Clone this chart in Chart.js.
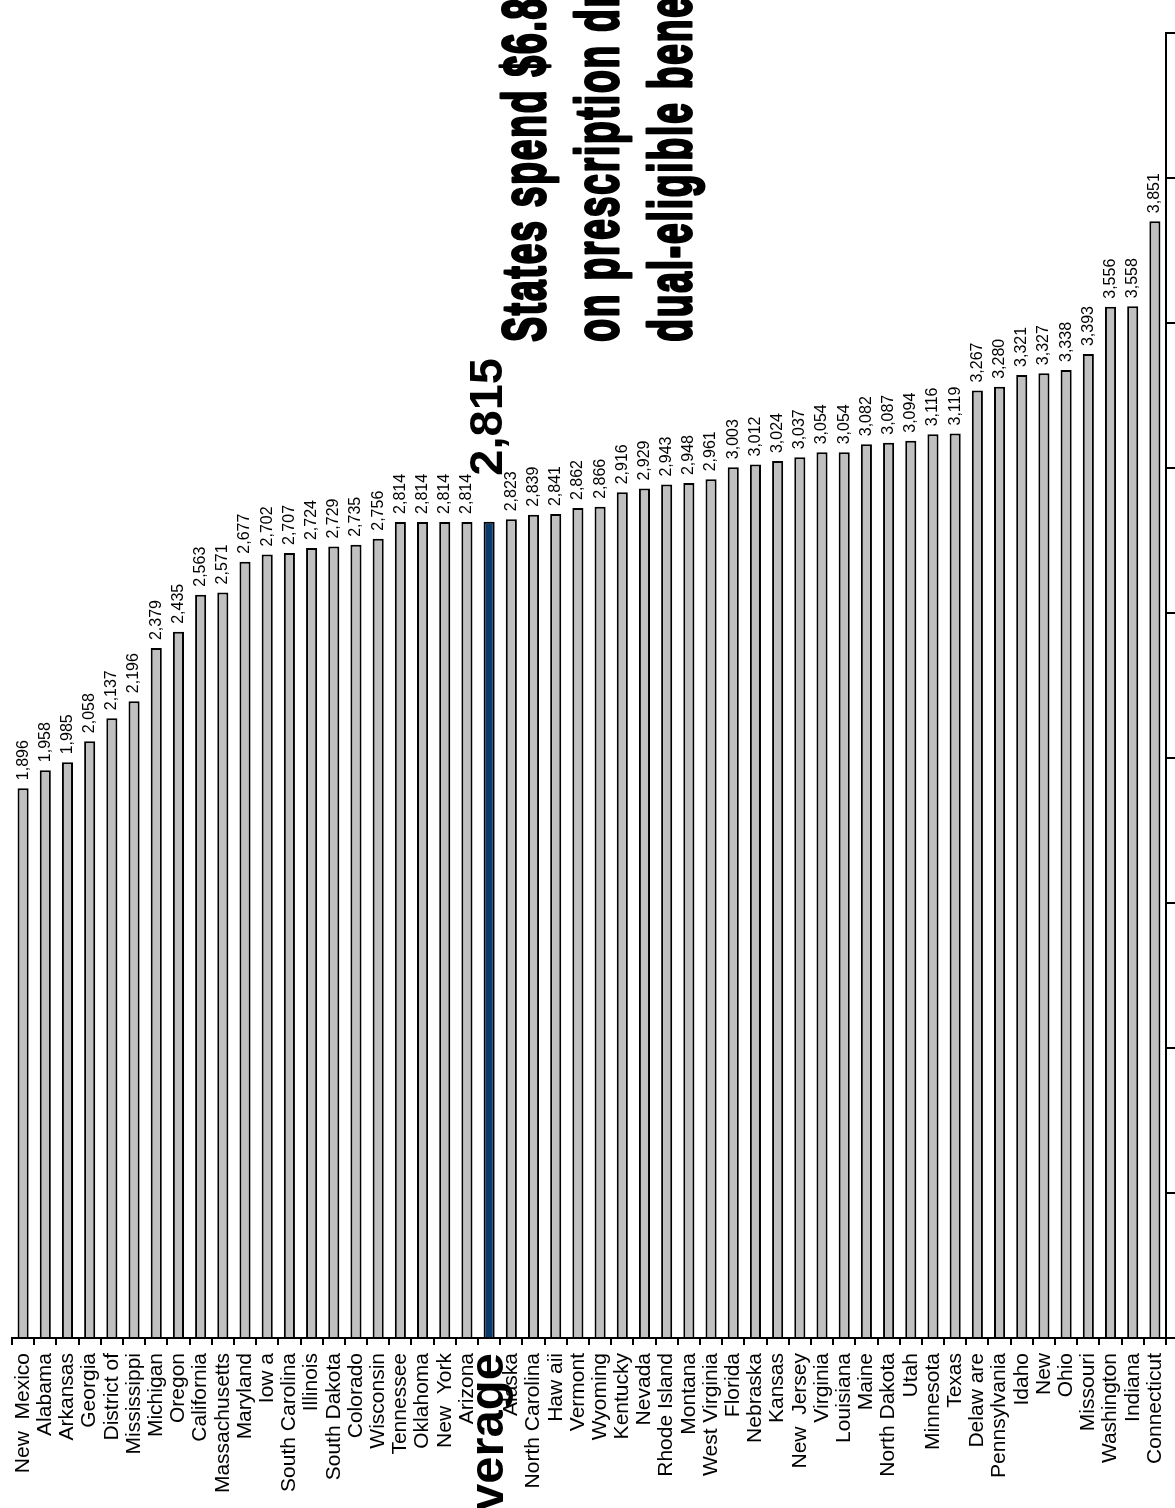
<!DOCTYPE html>
<html>
<head>
<meta charset="utf-8">
<script src="https://cdn.jsdelivr.net/npm/chart.js@4.4.1/dist/chart.umd.min.js"></script>
<style>
  html, body { margin: 0; padding: 0; background: #fff; overflow: hidden; }
  #wrap { width: 1175px; height: 1508px; position: relative; }
</style>
</head>
<body>
<div id="wrap"><canvas id="chart" width="1175" height="1508"></canvas></div>
<script>
// Per-beneficiary state spending on prescription drugs, sorted low to high
const states = [
  'New  Mexico', 'Alabama', 'Arkansas', 'Georgia', 'District of', 'Mississippi',
  'Michigan', 'Oregon', 'California', 'Massachusetts', 'Maryland', 'Iow a',
  'South Carolina', 'Illinois', 'South Dakota', 'Colorado', 'Wisconsin', 'Tennessee',
  'Oklahoma', 'New  York', 'Arizona', 'Average', 'Alaska', 'North Carolina',
  'Haw aii', 'Vermont', 'Wyoming', 'Kentucky', 'Nevada', 'Rhode Island',
  'Montana', 'West Virginia', 'Florida', 'Nebraska', 'Kansas', 'New  Jersey',
  'Virginia', 'Louisiana', 'Maine', 'North Dakota', 'Utah', 'Minnesota',
  'Texas', 'Delaw are', 'Pennsylvania', 'Idaho', 'New', 'Ohio',
  'Missouri', 'Washington', 'Indiana', 'Connecticut'
];
const spending = [
  1896, 1958, 1985, 2058, 2137, 2196,
  2379, 2435, 2563, 2571, 2677, 2702,
  2707, 2724, 2729, 2735, 2756, 2814,
  2814, 2814, 2814, 2815, 2823, 2839,
  2841, 2862, 2866, 2916, 2929, 2943,
  2948, 2961, 3003, 3012, 3024, 3037,
  3054, 3054, 3082, 3087, 3094, 3116,
  3119, 3267, 3280, 3321, 3327, 3338,
  3393, 3556, 3558, 3851
];
const averageLabel = 'Average';
const axisMin = 0;
const axisMax = 4500;
const axisStep = 500;
const titleLines = [
  'States spend $6.8 billion',
  'on prescription drugs for',
  'dual-eligible beneficiaries'
];

const avgIndex = states.indexOf(averageLabel);
const FAMILY = '"Liberation Sans", Arial, Helvetica, sans-serif';
const fmt = v => v.toLocaleString('en-US');

// Rotated value labels above each bar; the average gets a large bold label
const valueLabels = {
  id: 'valueLabels',
  afterDatasetsDraw(chart) {
    const ctx = chart.ctx;
    const meta = chart.getDatasetMeta(0);
    meta.data.forEach((bar, i) => {
      const v = chart.data.datasets[0].data[i];
      ctx.save();
      ctx.fillStyle = '#000';
      if (i === avgIndex) {
        ctx.font = 'bold 47px ' + FAMILY;
        ctx.translate(bar.x + 13, bar.y - 46);
        ctx.rotate(-Math.PI / 2);
        ctx.textAlign = 'left';
        ctx.textBaseline = 'alphabetic';
      } else {
        ctx.font = '16px ' + FAMILY;
        ctx.translate(bar.x, bar.y - 8);
        ctx.rotate(-Math.PI / 2);
        ctx.textAlign = 'left';
        ctx.textBaseline = 'middle';
      }
      ctx.fillText(fmt(v), 0, 0);
      ctx.restore();
    });
  }
};

// Heavy rotated headline, running up the page
const headline = {
  id: 'headline',
  afterDraw(chart) {
    const ctx = chart.ctx;
    const baselines = [545, 618, 691];
    const startY = 343;
    ctx.save();
    ctx.fillStyle = '#000';
    ctx.strokeStyle = '#000';
    ctx.lineJoin = 'round';
    ctx.lineWidth = 3;
    ctx.font = 'bold 62px ' + FAMILY;
    if ('letterSpacing' in ctx) ctx.letterSpacing = '3px';
    titleLines.forEach((line, i) => {
      ctx.save();
      ctx.translate(baselines[i], startY);
      ctx.rotate(-Math.PI / 2);
      ctx.scale(0.6, 1);
      ctx.textAlign = 'left';
      ctx.textBaseline = 'alphabetic';
      ctx.strokeText(line, 2, 0);
      ctx.fillText(line, 2, 0);
      ctx.restore();
    });
    ctx.restore();
  }
};

new Chart(document.getElementById('chart'), {
  type: 'bar',
  data: {
    labels: states,
    datasets: [{
      data: spending,
      backgroundColor: ctx => ctx.dataIndex === avgIndex ? '#0b3a6c' : '#c0c0c0',
      borderColor: '#000',
      borderWidth: 2,
      borderSkipped: 'start',
      categoryPercentage: 1,
      barPercentage: 0.5
    }]
  },
  options: {
    responsive: false,
    maintainAspectRatio: false,
    devicePixelRatio: 1,
    animation: false,
    layout: { padding: { top: 33, left: 12, right: 0, bottom: 0 } },
    plugins: { legend: { display: false }, tooltip: { enabled: false }, title: { display: false } },
    scales: {
      x: {
        grid: { offset: true, drawOnChartArea: false, drawTicks: true, tickLength: 7, color: '#000', lineWidth: 2 },
        border: { display: true, color: '#000', width: 2 },
        ticks: {
          autoSkip: false,
          minRotation: 90,
          maxRotation: 90,
          padding: 8,
          color: '#000',
          font: ctx => ctx.index === avgIndex
            ? { family: FAMILY, size: 49, weight: 'bold' }
            : { family: FAMILY, size: 21 }
        },
        afterFit: s => { s.height = 170; s.paddingLeft = 0; s.paddingRight = 0; }
      },
      y: {
        position: 'right',
        min: axisMin,
        max: axisMax,
        ticks: { stepSize: axisStep, display: false },
        grid: { drawOnChartArea: false, drawTicks: true, tickLength: 10, color: '#000', lineWidth: 2 },
        border: { display: true, color: '#000', width: 2 },
        afterFit: s => { s.width = 9; s.paddingTop = 0; s.paddingBottom = 0; }
      }
    }
  },
  plugins: [valueLabels, headline]
});
</script>
</body>
</html>
